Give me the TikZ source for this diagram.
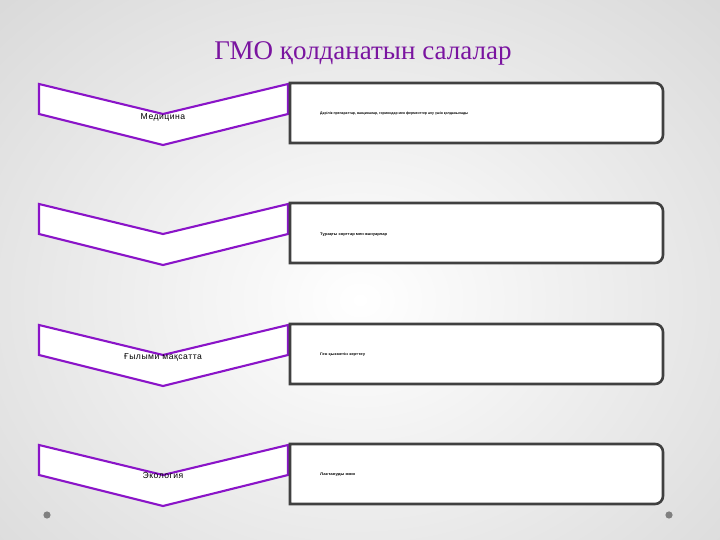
\documentclass[tikz,border=0pt]{standalone}
\usepackage{fontspec}
\setmainfont{Liberation Serif}
\newfontfamily\labfont[LetterSpace=6]{Liberation Sans}
\newfontfamily\tinyfont{Liberation Sans}
\definecolor{titlecol}{RGB}{122,20,160}
\definecolor{chevcol}{RGB}{138,20,200}
\definecolor{boxcol}{RGB}{64,64,64}
\definecolor{dotcol}{RGB}{128,128,128}
\tikzset{
  chevron/.style={draw=chevcol, fill=white, line width=2.1pt, line join=miter},
  panel/.style={draw=boxcol, fill=white, line width=2.6pt},
  lab/.style={font=\labfont\fontsize{8.6}{9}\selectfont, inner sep=0pt},
  boxtext/.style={anchor=west, inner sep=0pt, font=\tinyfont\bfseries},
  dot/.style={fill=dotcol, draw=none}
}
\begin{document}
\begin{tikzpicture}[x=1pt,y=1pt]
\useasboundingbox (0,0) rectangle (720,540);
\shade[inner color=white, outer color=black!16] (-200,-220) rectangle (920,700);
\node[font=\fontsize{27}{30}\selectfont, text=titlecol, anchor=base] (title) at (363,480) {ГМО қолданатын салалар};
% rows
\foreach \T/\i in {456/1,336/2,215/3,95/4}{
  \draw[chevron] (39,\T) -- (163,\T-30) -- (288,\T) -- (288,\T-30) -- (163,\T-61) -- (39,\T-30) -- cycle;
  \draw[panel] (290,\T+1) -- (655,\T+1) arc[start angle=90,end angle=0,radius=8] -- (663,\T-51) arc[start angle=0,end angle=-90,radius=8] -- (290,\T-59) -- cycle;
}
\node[lab] (l1) at (163,423) {Медицина};
\node[lab] (l3) at (163,183) {Ғылыми мақсатта};
\node[lab] (l4) at (163,64) {Экология};
\node[boxtext] (t1) at (320,426) {\resizebox{148pt}{2.6pt}{Дәрілік препараттар, вакциналар, гормондар мен ферменттер алу үшін қолданылады}};
\node[boxtext] (t2) at (320,305) {\resizebox{67pt}{2.6pt}{Тұрақты сорттар мен жануарлар}};
\node[boxtext] (t3) at (320,185) {\resizebox{45pt}{2.6pt}{Ген қызметін зерттеу}};
\node[boxtext] (t4) at (320,65) {\resizebox{35pt}{2.6pt}{Ластануды жою}};
\fill[dot] (47,25) circle (3.6);
\fill[dot] (669,25) circle (3.6);
\end{tikzpicture}
\end{document}
